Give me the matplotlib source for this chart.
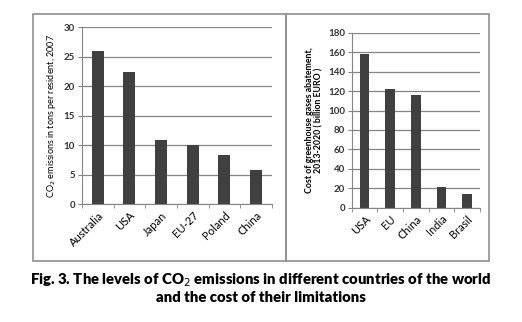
import numpy as np
import matplotlib.pyplot as plt
from matplotlib.patches import Rectangle

plt.rcParams['font.family'] = ['Lato', 'DejaVu Sans']

# data
countries_co2 = ["Australia", "USA", "Japan", "EU-27", "Poland", "China"]
co2_per_resident = [26, 22.4, 10.9, 10, 8.4, 5.8]

countries_cost = ["USA", "EU", "China", "India", "Brasil"]
cost_billion_eur = [158, 122, 116, 21.5, 14.5]

bar_color = "#404040"
grid_color = "#858585"


def style_axes(ax, n, ymax, ystep, labels):
    x = np.arange(n)
    ax.set_xlim(-0.5, n - 0.5)
    ax.set_ylim(0, ymax)
    ax.set_yticks(np.arange(0, ymax + 1, ystep))
    ax.set_xticks(x)
    ax.set_xticklabels(labels, rotation=45, ha="right", rotation_mode="anchor", fontsize=8)
    ax.set_xticks(np.arange(-0.5, n, 1), minor=True)
    ax.tick_params(axis="x", which="major", length=0, pad=4)
    ax.tick_params(axis="x", which="minor", length=3, color=grid_color)
    ax.tick_params(axis="y", length=3, color=grid_color, labelsize=7, pad=2)
    for lab in ax.get_yticklabels():
        lab.set_fontweight("bold")
        lab.set_color("#333333")
    ax.yaxis.grid(True, color=grid_color, linewidth=0.9)
    ax.set_axisbelow(True)
    for s in ["top", "right"]:
        ax.spines[s].set_visible(False)
    for s in ["left", "bottom"]:
        ax.spines[s].set_color(grid_color)


fig = plt.figure(figsize=(5.22, 3.22), dpi=100)

# panel frames
fig.add_artist(Rectangle((0.063, 0.189), 0.485, 0.768, transform=fig.transFigure,
                         fill=False, edgecolor="#909090", linewidth=1.2))
fig.add_artist(Rectangle((0.548, 0.189), 0.389, 0.766, transform=fig.transFigure,
                         fill=False, edgecolor="#909090", linewidth=1.2))

ax1 = fig.add_axes([0.157, 0.366, 0.364, 0.550])
ax1.bar(np.arange(len(countries_co2)), co2_per_resident, width=0.38, color=bar_color)
style_axes(ax1, len(countries_co2), 30, 5, countries_co2)
ax1.set_ylabel("CO$_2$ emissions in tons per resident, 2007", fontsize=6.5, labelpad=4)

ax2 = fig.add_axes([0.674, 0.355, 0.245, 0.543])
ax2.bar(np.arange(len(countries_cost)), cost_billion_eur, width=0.37, color=bar_color)
style_axes(ax2, len(countries_cost), 180, 20, countries_cost)
ax2.set_ylabel("Cost of greenhouse gases abatement,\n2013-2020 ( billion EURO )",
               fontsize=6.3, fontweight="bold", labelpad=3, linespacing=1.1)

fig.text(0.5, 0.130, "Fig. 3. The levels of CO$_2$ emissions in different countries of the world",
         ha="center", va="center", fontsize=10.7, fontweight="heavy")
fig.text(0.5, 0.076, "and the cost of their limitations",
         ha="center", va="center", fontsize=10.7, fontweight="heavy")

fig.savefig("out.png", dpi=100)
